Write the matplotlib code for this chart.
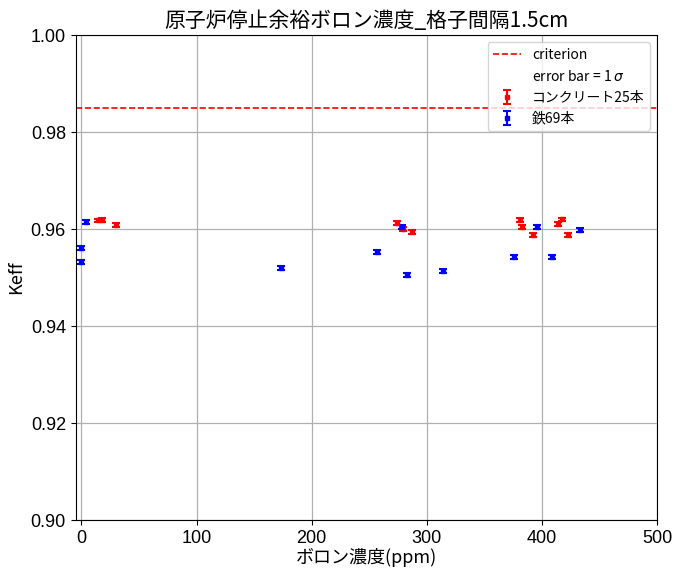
import matplotlib
matplotlib.use("Agg")
import matplotlib.pyplot as plt

plt.rcParams['font.family'] = ['Noto Sans CJK JP', 'DejaVu Sans']

# コンクリート25本
concrete_boron = [14, 18, 30, 274, 279, 287, 381, 383, 392, 414, 417, 423]
concrete_keff = [0.9618, 0.9619, 0.9608, 0.9612, 0.9600, 0.9594, 0.9619, 0.9605, 0.9588, 0.9610, 0.9620, 0.9588]
concrete_err = [0.0004] * len(concrete_boron)

# 鉄69本
iron_boron = [0, 0, 4, 173, 257, 278, 283, 314, 376, 396, 409, 433]
iron_keff = [0.9561, 0.9533, 0.9614, 0.9520, 0.9553, 0.9605, 0.9505, 0.9514, 0.9543, 0.9605, 0.9543, 0.9598]
iron_err = [0.0004] * len(iron_boron)

criterion = 0.985

fig, ax = plt.subplots(figsize=(6.76, 5.69), dpi=100)

ax.axhline(criterion, color='red', linestyle='--', linewidth=1.2, label='criterion')
ax.plot([], [], ' ', label=r'error bar = 1 $\sigma$')
ax.errorbar(concrete_boron, concrete_keff, yerr=concrete_err, fmt='s', color='red',
            markersize=3, capsize=3, elinewidth=1.5, capthick=1.5, label='コンクリート25本')
ax.errorbar(iron_boron, iron_keff, yerr=iron_err, fmt='s', color='blue',
            markersize=3, capsize=3, elinewidth=1.5, capthick=1.5, label='鉄69本')

ax.set_xlim(-5, 500)
ax.set_ylim(0.90, 1.00)
ax.set_yticks([0.90, 0.92, 0.94, 0.96, 0.98, 1.00])
ax.set_xticks([0, 100, 200, 300, 400, 500])
ax.tick_params(labelsize=13)
for lbl in ax.get_xticklabels() + ax.get_yticklabels():
    lbl.set_family(['Liberation Sans', 'DejaVu Sans'])
ax.grid(True, color='#b0b0b0', linewidth=0.9)

ax.set_title('原子炉停止余裕ボロン濃度_格子間隔1.5cm', fontsize=15)
ax.set_xlabel('ボロン濃度(ppm)', fontsize=13, labelpad=1)
ax.set_ylabel('Keff', fontsize=13)

ax.legend(loc='upper right', fontsize=10)

fig.subplots_adjust(left=0.112, right=0.972, top=0.938, bottom=0.086)
fig.savefig('out.png', dpi=100)
